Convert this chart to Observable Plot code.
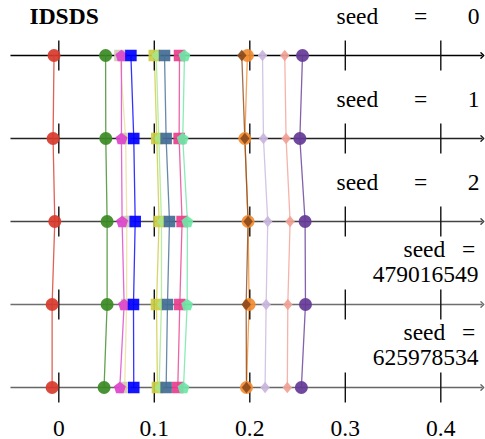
<!DOCTYPE html>
<html>
<head>
<meta charset="utf-8">
<script src="https://cdn.jsdelivr.net/npm/d3@7"></script>
<script src="https://cdn.jsdelivr.net/npm/@observablehq/plot@0.6"></script>
<style>
  html, body { margin: 0; padding: 0; background: #fff; }
  #chart svg { display: block; }
  #chart svg text {
    font-family: "Liberation Serif", "Tinos", "Times New Roman", "Times", "Nimbus Roman", "Nimbus Roman No9 L",
      "FreeSerif", "Noto Serif", "DejaVu Serif", "Noto Serif CJK SC", "Source Han Serif", serif !important;
  }
</style>
</head>
<body>
<div id="chart"></div>
<script>
// ---- data ----
const title = "IDSDS";
const seeds = ["0", "1", "2", "479016549", "625978534"];
const xTicks = [0, 0.1, 0.2, 0.3, 0.4];
const xTickLabels = ["0", "0.1", "0.2", "0.3", "0.4"];
const algorithms = ["red", "green", "khaki", "magenta", "blue", "lime", "lightgreen", "steel", "rose", "mint", "orange", "brown", "lavender", "salmon", "purple"];
const valRed        = [-0.005, -0.006, -0.0042, -0.007, -0.007];
const valGreen      = [0.049, 0.0492, 0.0506, 0.0506, 0.0474];
const valKhaki      = [0.064, 0.070, 0.0712, 0.071, 0.069];
const valMagenta    = [0.0656, 0.0656, 0.0663, 0.0684, 0.0639];
const valBlue       = [0.0755, 0.0785, 0.080, 0.0782, 0.0785];
const valLime       = [0.100, 0.1026, 0.105, 0.1023, 0.1033];
const valLightgreen = [0.102, 0.1047, 0.1075, 0.1075, 0.105];
const valSteel      = [0.1107, 0.1124, 0.1159, 0.1138, 0.1124];
const valRose       = [0.1264, 0.126, 0.1291, 0.1267, 0.1246];
const valMint       = [0.1316, 0.1298, 0.1347, 0.1344, 0.1306];
const valOrange     = [0.1975, 0.1948, 0.1982, 0.1993, 0.1965];
const valBrown      = [0.1916, 0.1948, 0.1982, 0.1962, 0.1965];
const valLavender   = [0.2133, 0.2143, 0.2188, 0.2171, 0.216];
const valSalmon     = [0.2366, 0.238, 0.2422, 0.2398, 0.2393];
const valPurple     = [0.2552, 0.2524, 0.2579, 0.2583, 0.254];
const seriesValues = [valRed, valGreen, valKhaki, valMagenta, valBlue, valLime, valLightgreen, valSteel, valRose, valMint, valOrange, valBrown, valLavender, valSalmon, valPurple];

// ---- styles ----
const fills = {
  red: "#d8392b", green: "#3a8a23", khaki: "#cfcbb5", magenta: "#dd44cc", blue: "#0000ff",
  lime: "#cccc44", lightgreen: "#a8e68a", steel: "#426d94", rose: "#e83e8c", mint: "#6ee6a6",
  orange: "#f28c30", brown: "#8b4a1c", lavender: "#c9b6dd", salmon: "#f2a196", purple: "#643a97"
};
const strokes = Object.assign({}, fills, { khaki: "#eadf9c" });

const pentagon = {
  draw(ctx, size) {
    const R = Math.sqrt(size / Math.PI) * 0.97;
    for (let i = 0; i < 5; i++) {
      const a = -Math.PI / 2 + i * 2 * Math.PI / 5;
      const px = R * Math.cos(a), py = R * Math.sin(a) + R * 0.1;
      if (i === 0) ctx.moveTo(px, py); else ctx.lineTo(px, py);
    }
    ctx.closePath();
  }
};
const diamond = {
  draw(ctx, size) {
    const r = Math.sqrt(size / Math.PI);
    const w = r * 0.72, h = r * 0.88;
    ctx.moveTo(0, -h); ctx.lineTo(w, 0); ctx.lineTo(0, h); ctx.lineTo(-w, 0); ctx.closePath();
  }
};
const symbols = {
  red: "circle", green: "circle", khaki: "square", magenta: pentagon, blue: "square",
  lime: "square", lightgreen: diamond, steel: "square", rose: "square", mint: pentagon,
  orange: "circle", brown: diamond, lavender: diamond, salmon: diamond, purple: "circle"
};

// ---- build tables ----
const points = [];
algorithms.forEach((alg, i) => {
  seeds.forEach((s, row) => points.push({ alg, row, value: seriesValues[i][row] }));
});
const rows = seeds.map((s, row) => ({ seed: s, row, long: s.length > 2 }));
const tickRows = [];
rows.forEach(r => xTicks.forEach(t => tickRows.push({ row: r.row, t })));
const axisGreys = ["#000", "#222", "#444", "#6e6e6e", "#666"];
const lastRow = seeds.length - 1;

const font = "Liberation Serif, Tinos, Times New Roman, DejaVu Serif, serif";
const T = { fill: "#000", lineAnchor: "bottom" };

const marks = [];
// axis lines with arrow
marks.push(Plot.link(rows, {
  x1: () => -0.0506, x2: () => 0.4435, y1: "row", y2: "row",
  stroke: d => axisGreys[d.row], strokeWidth: 1.4, markerEnd: "arrow"
}));
// connecting lines between seeds
algorithms.forEach(alg => {
  marks.push(Plot.line(points.filter(p => p.alg === alg), {
    x: "value", y: "row", stroke: strokes[alg], strokeWidth: 1.3, strokeOpacity: 0.8
  }));
});
// tick marks
marks.push(Plot.link(tickRows, {
  x1: "t", x2: "t", y1: d => d.row - 0.181, y2: d => d.row + 0.181,
  stroke: "#111", strokeWidth: 1.4
}));
// markers
algorithms.forEach(alg => {
  marks.push(Plot.dot(points.filter(p => p.alg === alg), {
    x: "value", y: "row", r: 6.5, symbol: symbols[alg], fill: fills[alg], fillOpacity: 0.92, stroke: "none"
  }));
});
// tick labels
marks.push(Plot.text(xTicks, {
  ...T, x: d => d, y: () => lastRow, text: (d, i) => xTickLabels[i], dy: 48
}));
// title
marks.push(Plot.text([title], {
  ...T, frameAnchor: "left", y: () => 0, dx: 29, dy: -32,
  textAnchor: "start", fontWeight: "bold", text: d => d
}));
// seed labels (short)
const shortRows = rows.filter(r => !r.long);
const longRows = rows.filter(r => r.long);
marks.push(Plot.text(shortRows, { ...T, frameAnchor: "right", y: "row", text: () => "seed", textAnchor: "start", dx: -149, dy: -32 }));
marks.push(Plot.text(shortRows, { ...T, frameAnchor: "right", y: "row", text: () => "=", textAnchor: "middle", dx: -65, dy: -32 }));
marks.push(Plot.text(shortRows, { ...T, frameAnchor: "right", y: "row", text: "seed", textAnchor: "end", dx: -6, dy: -32 }));
// seed labels (long, two lines)
marks.push(Plot.text(longRows, { ...T, frameAnchor: "right", y: "row", text: () => "seed", textAnchor: "start", dx: -82, dy: -48 }));
marks.push(Plot.text(longRows, { ...T, frameAnchor: "right", y: "row", text: () => "=", textAnchor: "middle", dx: -17, dy: -48 }));
marks.push(Plot.text(longRows, { ...T, frameAnchor: "right", y: "row", text: "seed", textAnchor: "end", dx: -7, dy: -23 }));

const chart = Plot.plot({
  width: 485,
  height: 439,
  margin: 0,
  x: { domain: [0, 0.4], range: [58.3, 440.3], axis: null },
  y: { domain: [0, 4], range: [55, 387], axis: null },
  style: { fontFamily: font, fontSize: "23.5px", background: "#fff", overflow: "visible" },
  marks
});
document.getElementById("chart").appendChild(chart);
</script>
</body>
</html>
